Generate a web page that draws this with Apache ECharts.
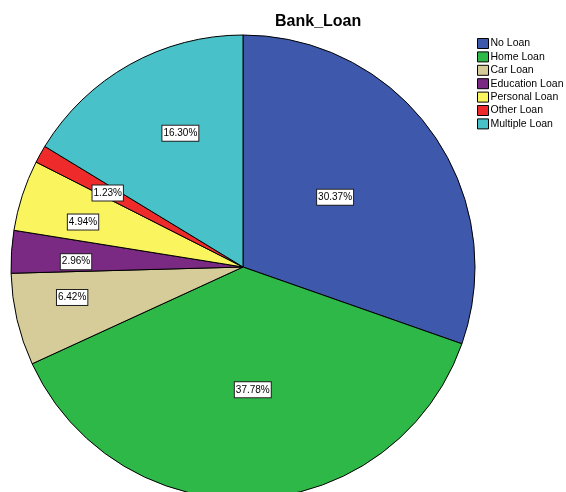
<!DOCTYPE html>
<html>
<head>
    <meta charset="utf-8">
    <title>Bank_Loan</title>
    <style>
        html,body{margin:0;padding:0;background:#fff;}
    </style>
</head>
<body>
<div id="main" style="width:566px;height:492px;"></div>
<script src="https://cdn.jsdelivr.net/npm/echarts@6/dist/echarts.min.js"></script>
<script type="text/javascript">
    // categories and percentages
    var categories = ['No Loan', 'Home Loan', 'Car Loan', 'Education Loan', 'Personal Loan', 'Other Loan', 'Multiple Loan'];
    var percents = [30.37, 37.78, 6.42, 2.96, 4.94, 1.23, 16.30];
    var colors = ['#3E58AC', '#2EB848', '#D6CC99', '#7A2A82', '#FAF55E', '#EE2A2A', '#48C1C9'];
    // label placement: radial scale from the default inside spot, plus a small nudge (px)
    var labelScale = [1.0, 1.05, 1.5, 1.44, 1.44, 1.33, 1.28];
    var labelShiftX = [-5, 4, 3, 4, 3, 3, 12];
    var labelShiftY = [-1, -2, -10, 6, 8, 3, -1];

    var cx = 243, cy = 267;

    var myChart = echarts.init(document.getElementById('main'));

    var data = categories.map(function (name, i) {
        return { name: name, value: percents[i], itemStyle: { color: colors[i] } };
    });

    myChart.setOption({
        animation: false,
        title: {
            text: 'Bank_Loan',
            left: 275,
            top: 14,
            padding: 0,
            textStyle: { fontFamily: 'Arial, Liberation Sans', fontSize: 16, fontWeight: 'bold', color: '#000' }
        },
        legend: {
            orient: 'vertical',
            left: 477,
            top: 38,
            padding: 0,
            itemWidth: 11,
            itemHeight: 10,
            itemGap: 2.4,
            icon: 'rect',
            itemStyle: { borderColor: '#000', borderWidth: 1 },
            textStyle: { fontFamily: 'Arial, Liberation Sans', fontSize: 10.5, color: '#000', padding: [0, 0, 0, -3], lineHeight: 10 },
            data: categories
        },
        series: [{
            type: 'pie',
            center: [cx, cy],
            radius: 232,
            startAngle: 90,
            clockwise: true,
            itemStyle: { borderColor: '#000', borderWidth: 1 },
            emphasis: { disabled: true },
            label: {
                show: true,
                position: 'inside',
                formatter: function (p) { return p.value.toFixed(2) + '%'; },
                fontFamily: 'Arial, Liberation Sans',
                fontSize: 10,
                lineHeight: 12,
                color: '#000',
                backgroundColor: '#fff',
                borderColor: '#222',
                borderWidth: 1,
                padding: [2, 1, 1, 1]
            },
            labelLayout: function (params) {
                var i = params.dataIndex;
                var k = labelScale[i];
                var r = params.labelRect;
                var lx = r.x + r.width / 2;
                var ly = r.y + r.height / 2;
                return {
                    x: cx + (lx - cx) * k + labelShiftX[i],
                    y: cy + (ly - cy) * k + labelShiftY[i],
                    align: 'center',
                    verticalAlign: 'middle'
                };
            },
            data: data
        }]
    });
</script>
</body>
</html>
